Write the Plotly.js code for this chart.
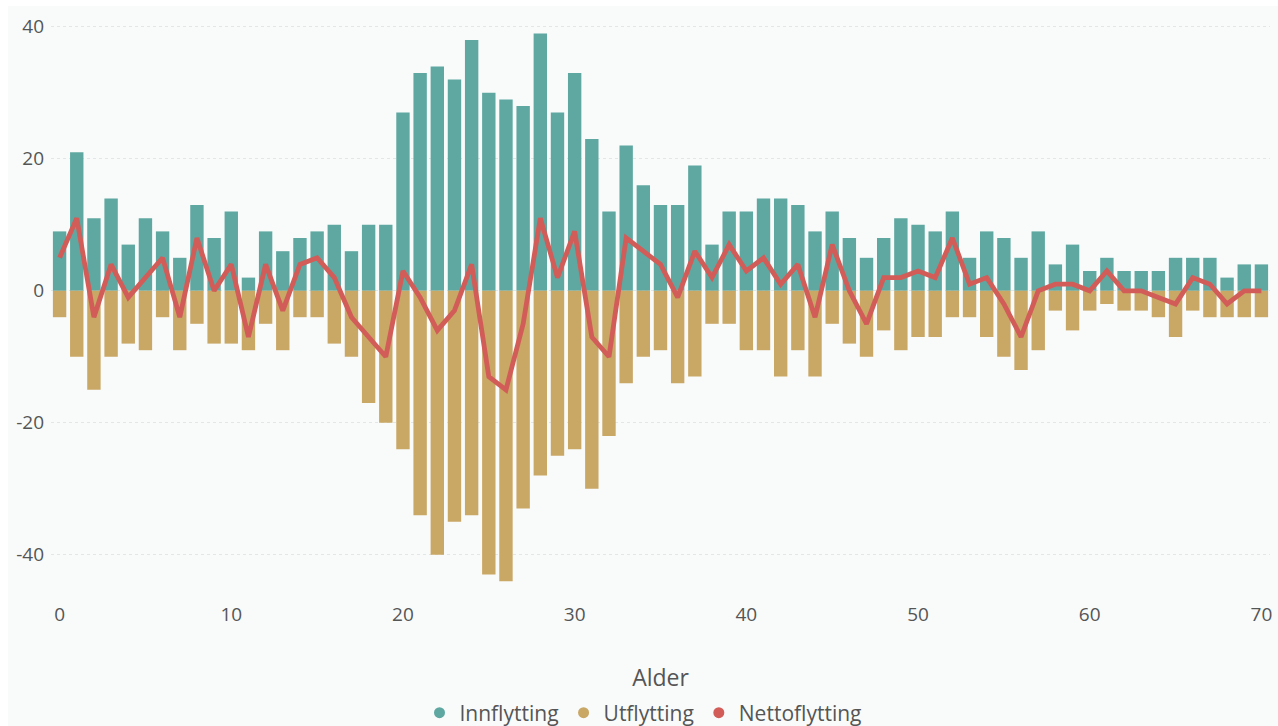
<!DOCTYPE html>
<html>
<head>
<meta charset="utf-8">
<script src="https://cdn.plot.ly/plotly-3.0.1.min.js"></script>
<style>
  html, body { margin: 0; padding: 0; background: #ffffff; }
  #chart { position: absolute; left: 8px; top: 6px; width: 1270px; height: 720px; }
</style>
</head>
<body>
<div id="chart"></div>
<script>
const ages = [];
for (let a = 0; a <= 70; a++) ages.push(a);

const innflytting = [9,21,11,14,7,11,9,5,13,8,12,2,9,6,8,9,10,6,10,10,
  27,33,34,32,38,30,29,28,39,27,33,23,12,22,16,13,13,19,7,12,
  12,14,14,13,9,12,8,5,8,11,10,9,12,5,9,8,5,9,4,7,
  3,5,3,3,3,5,5,5,2,4,4];

const utflytting = [-4,-10,-15,-10,-8,-9,-4,-9,-5,-8,-8,-9,-5,-9,-4,-4,-8,-10,-17,-20,
  -24,-34,-40,-35,-34,-43,-44,-33,-28,-25,-24,-30,-22,-14,-10,-9,-14,-13,-5,-5,
  -9,-9,-13,-9,-13,-5,-8,-10,-6,-9,-7,-7,-4,-4,-7,-10,-12,-9,-3,-6,
  -3,-2,-3,-3,-4,-7,-3,-4,-4,-4,-4];

const nettoflytting = [5,11,-4,4,-1,2,5,-4,8,0,4,-7,4,-3,4,5,2,-4,-7,-10,
  3,-1,-6,-3,4,-13,-15,-5,11,2,9,-7,-10,8,6,4,-1,6,2,7,
  3,5,1,4,-4,7,0,-5,2,2,3,2,8,1,2,-2,-7,0,1,1,
  0,3,0,0,-1,-2,2,1,-2,0,0];

const seriesNames = ['Innflytting', 'Utflytting', 'Nettoflytting'];
const colors = ['#5fa8a1', '#c9a765', '#d25c58'];
const yTicks = [-40, -20, 0, 20, 40];
const xTicks = [0, 10, 20, 30, 40, 50, 60, 70];

const fontFam = '"Open Sans", "Noto Sans", sans-serif';

const traces = [
  { type: 'bar', x: ages, y: innflytting, name: seriesNames[0], marker: { color: colors[0] }, showlegend: false },
  { type: 'bar', x: ages, y: utflytting, name: seriesNames[1], marker: { color: colors[1] }, showlegend: false },
  { type: 'scatter', mode: 'lines', x: ages, y: nettoflytting, name: seriesNames[2],
    line: { color: colors[2], width: 4.8 }, showlegend: false },
];
seriesNames.forEach((n, i) => {
  traces.push({ type: 'scatter', mode: 'markers', x: [null], y: [null], name: n,
    marker: { color: colors[i], size: 11, symbol: 'circle' }, showlegend: true, hoverinfo: 'skip' });
});

const layout = {
  width: 1270, height: 720,
  paper_bgcolor: '#f9fbfb',
  plot_bgcolor: '#f9fbfb',
  margin: { l: 43, r: 8, t: 1, b: 125 },
  barmode: 'relative',
  bargap: 0.22,
  font: { family: fontFam, color: '#555555', size: 19 },
  xaxis: {
    range: [-0.5, 70.5],
    tickvals: xTicks,
    ticktext: xTicks.map(String),
    showgrid: false, zeroline: false, showline: false,
    tickfont: { size: 19, color: '#555555' },
    title: { text: 'Alder', font: { size: 23, color: '#555555' }, standoff: 46 },
    automargin: false,
  },
  yaxis: {
    range: [-47, 43],
    tickvals: yTicks,
    ticktext: yTicks.map(String),
    showgrid: true, gridcolor: '#e3e6e6', griddash: 'dot', gridwidth: 1,
    zeroline: false, showline: false,
    tickfont: { size: 19, color: '#555555' },
    ticklabelstandoff: 6,
    automargin: false,
  },
  legend: {
    orientation: 'h', xref: 'container', yref: 'container',
    x: 0.5, xanchor: 'center', y: 0.018, yanchor: 'middle',
    font: { size: 21, color: '#555555' },
    itemwidth: 30, tracegroupgap: 0,
    bgcolor: 'rgba(0,0,0,0)',
  },
  hovermode: false,
  showlegend: true,
};

Plotly.newPlot('chart', traces, layout, { displayModeBar: false, staticPlot: true });
</script>
</body>
</html>
